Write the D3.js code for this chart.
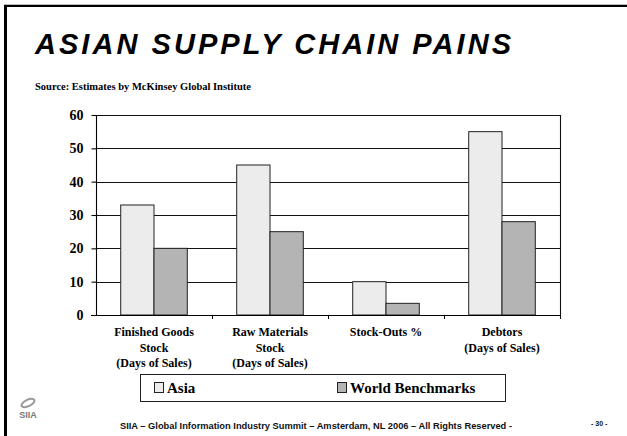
<!DOCTYPE html>
<html>
<head>
<meta charset="utf-8">
<script src="https://cdn.jsdelivr.net/npm/d3@7"></script>
<style>
  body { margin: 0; background: #fff; }
  svg { display: block; }
</style>
</head>
<body>
<svg id="slide" width="627" height="436"></svg>
<script>
// data
var categories = ["Finished Goods", "Raw Materials", "Stock-Outs", "Debtors"];
var catLines = [
  ["Finished Goods", "Stock", "(Days of Sales)"],
  ["Raw Materials", "Stock", "(Days of Sales)"],
  ["Stock-Outs %"],
  ["Debtors", "(Days of Sales)"]
];
var series = ["Asia", "World Benchmarks"];
var asia = [33, 45, 10, 55];
var world = [20, 25, 3.5, 28];
var yTicks = [0, 10, 20, 30, 40, 50, 60];

var colors = { "Asia": "#ececec", "World Benchmarks": "#b4b4b4" };
var serif = "'Liberation Serif', 'Times New Roman', serif";
var sans = "'Liberation Sans', Arial, sans-serif";

var svg = d3.select("#slide");

// slide frame
svg.append("line").attr("x1", 4).attr("x2", 627).attr("y1", 4.5).attr("y2", 4.5)
  .style("stroke", "#bbb").style("stroke-width", 1);
svg.append("line").attr("x1", 4).attr("x2", 627).attr("y1", 6).attr("y2", 6)
  .style("stroke", "#000").style("stroke-width", 2);
svg.append("line").attr("x1", 5.5).attr("x2", 5.5).attr("y1", 5).attr("y2", 436)
  .style("stroke", "#000").style("stroke-width", 3);

// title
svg.append("text")
  .attr("x", 35).attr("y", 54)
  .attr("textLength", 476).attr("lengthAdjust", "spacing")
  .style("font-family", sans).style("font-weight", "bold").style("font-style", "italic")
  .style("font-size", "29px").style("fill", "#000")
  .text("ASIAN SUPPLY CHAIN PAINS");

svg.append("text")
  .attr("x", 35).attr("y", 90)
  .style("font-family", serif).style("font-weight", "bold")
  .style("font-size", "10.5px").style("fill", "#000")
  .text("Source: Estimates by McKinsey Global Institute");

// chart
var plotL = 96, plotR = 560, plotT = 115, plotB = 315;

var x0 = d3.scaleBand().domain(categories).range([plotL, plotR]);
var bw = x0.bandwidth();
var x1 = d3.scaleBand().domain(series).range([bw * 0.213, bw * 0.787]);
var y = d3.scaleLinear().domain([0, 60]).range([plotB, plotT]);

var rows = categories.map(function(c, i) {
  return { cat: c, values: [ { s: "Asia", v: asia[i] }, { s: "World Benchmarks", v: world[i] } ] };
});

// gridlines
svg.append("g").selectAll("line")
  .data(yTicks.filter(function(d) { return d > 0; }))
  .enter().append("line")
  .attr("x1", plotL).attr("x2", plotR)
  .attr("y1", function(d) { return Math.round(y(d)) + 0.5; })
  .attr("y2", function(d) { return Math.round(y(d)) + 0.5; })
  .style("stroke", "#111").style("stroke-width", 1.1);

// right border of plot
svg.append("line")
  .attr("x1", plotR + 0.5).attr("x2", plotR + 0.5)
  .attr("y1", plotT).attr("y2", plotB + 4)
  .style("stroke", "#111").style("stroke-width", 1.1);

// bars
var groups = svg.append("g").selectAll("g")
  .data(rows).enter().append("g")
  .attr("transform", function(d) { return "translate(" + x0(d.cat) + ",0)"; });

groups.selectAll("rect")
  .data(function(d) { return d.values; })
  .enter().append("rect")
  .attr("x", function(d) { return x1(d.s); })
  .attr("y", function(d) { return y(d.v); })
  .attr("width", x1.bandwidth())
  .attr("height", function(d) { return plotB - y(d.v); })
  .style("fill", function(d) { return colors[d.s]; })
  .style("stroke", "#222").style("stroke-width", 1);

// y axis
var yAxis = d3.axisLeft(y).tickValues(yTicks).tickSize(5).tickPadding(8);
var yg = svg.append("g").attr("transform", "translate(" + (plotL + 0.5) + ",0)").call(yAxis);
yg.selectAll("path, line").style("stroke", "#000").style("stroke-width", 1.1);
yg.select(".domain").attr("d", "M0," + plotT + "V" + plotB);
yg.selectAll("text")
  .style("font-family", serif).style("font-weight", "bold")
  .style("font-size", "14px").style("fill", "#000");

// x axis
var xAxis = d3.axisBottom(x0).tickSize(0).tickFormat("");
var xg = svg.append("g").attr("transform", "translate(0," + (plotB + 0.5) + ")").call(xAxis);
xg.select(".domain").attr("d", "M" + (plotL - 5) + ",0H" + plotR).style("stroke", "#000").style("stroke-width", 1.1);

// category boundary ticks
svg.append("g").selectAll("line")
  .data(categories.slice(1))
  .enter().append("line")
  .attr("x1", function(d) { return Math.round(x0(d)) + 0.5; })
  .attr("x2", function(d) { return Math.round(x0(d)) + 0.5; })
  .attr("y1", plotB).attr("y2", plotB + 4)
  .style("stroke", "#000").style("stroke-width", 1);

// category labels
var labels = svg.append("g").selectAll("text")
  .data(categories).enter().append("text")
  .attr("text-anchor", "middle")
  .style("font-family", serif).style("font-weight", "bold")
  .style("font-size", "12px").style("fill", "#000");

labels.selectAll("tspan")
  .data(function(d, i) { return catLines[i].map(function(t) { return { t: t, c: d }; }); })
  .enter().append("tspan")
  .attr("x", function(d) { return x0(d.c) + bw / 2; })
  .attr("y", function(d, j) { return 336 + j * 15.5; })
  .text(function(d) { return d.t; });

// legend
var legend = svg.append("g");
legend.append("rect")
  .attr("x", 140.5).attr("y", 374.5).attr("width", 365).attr("height", 27)
  .style("fill", "#fff").style("stroke", "#222").style("stroke-width", 1);

var legX = [154, 337];
var items = legend.selectAll("g.item")
  .data(series).enter().append("g")
  .attr("class", "item")
  .attr("transform", function(d, i) { return "translate(" + legX[i] + ",382)"; });

items.append("rect")
  .attr("x", 0.5).attr("y", 0.5).attr("width", 9).attr("height", 10)
  .style("fill", function(d) { return colors[d]; })
  .style("stroke", "#222").style("stroke-width", 1);

items.append("text")
  .attr("x", 13).attr("y", 11)
  .style("font-family", serif).style("font-weight", "bold")
  .style("font-size", "15px").style("fill", "#000")
  .text(function(d) { return d; });

// logo
var logo = svg.append("g").attr("transform", "translate(28,403)");
logo.append("ellipse")
  .attr("cx", 0).attr("cy", 0).attr("rx", 7).attr("ry", 3.2)
  .attr("transform", "rotate(-25)")
  .style("fill", "none").style("stroke", "#999").style("stroke-width", 2);
logo.append("text")
  .attr("x", 0).attr("y", 15).attr("text-anchor", "middle")
  .style("font-family", sans).style("font-weight", "bold")
  .style("font-size", "9px").style("fill", "#777")
  .text("SIIA");

// footer
svg.append("text")
  .attr("x", 120).attr("y", 429)
  .attr("textLength", 392).attr("lengthAdjust", "spacingAndGlyphs")
  .style("font-family", sans).style("font-weight", "bold")
  .style("font-size", "8.5px").style("fill", "#111")
  .text("SIIA \u2013 Global Information Industry Summit \u2013 Amsterdam, NL 2006 \u2013 All Rights Reserved -");

svg.append("text")
  .attr("x", 591).attr("y", 426)
  .style("font-family", sans).style("font-weight", "bold")
  .style("font-size", "7px").style("fill", "#111")
  .text("- 30 -");
</script>
</body>
</html>
